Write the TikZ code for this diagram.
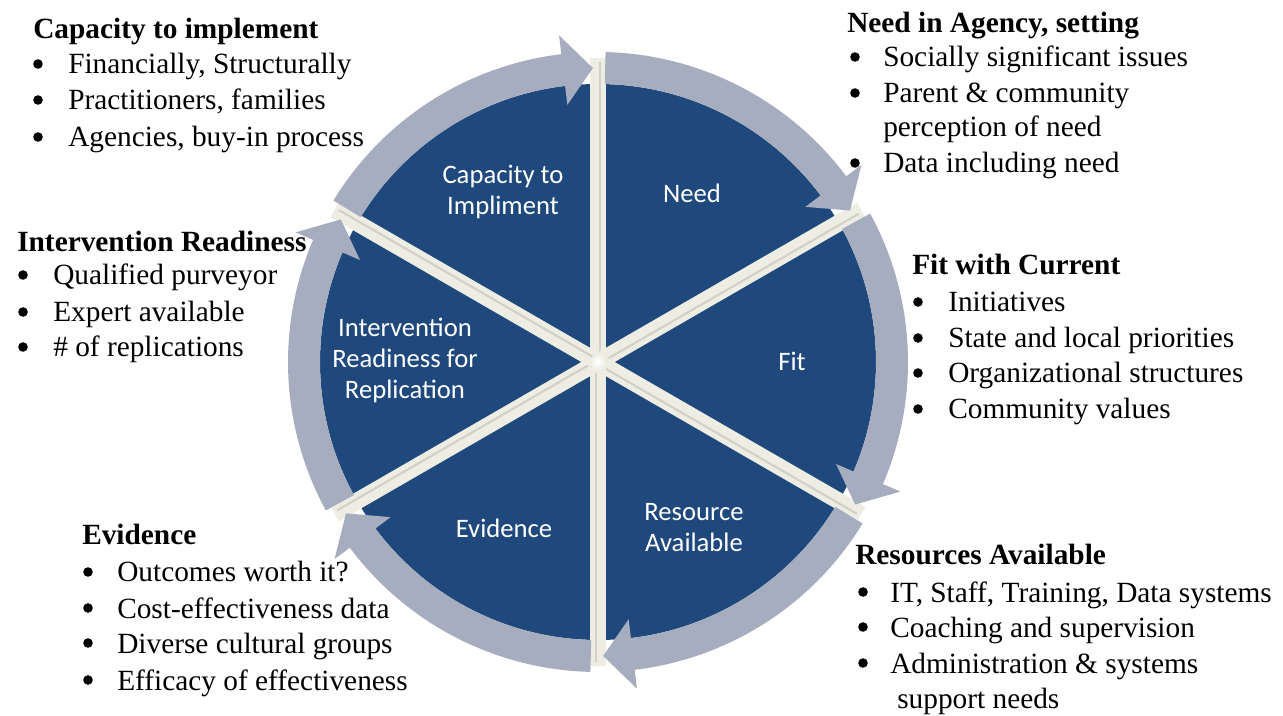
\documentclass[tikz,border=0pt]{standalone}
\usepackage{fontspec}
\setmainfont{Liberation Serif}
\newfontfamily\calib{Carlito}
\definecolor{diskblue}{RGB}{31,73,124}
\definecolor{ringgray}{RGB}{166,173,191}
\definecolor{creamc}{RGB}{238,237,228}
\definecolor{shadec}{RGB}{210,209,200}
\tikzset{
  hd/.style={anchor=base west, inner sep=0pt, font=\bfseries\fontsize{22}{27}\selectfont},
  bl/.style={anchor=base west, inner sep=0pt, font=\fontsize{22}{27}\selectfont},
  bu/.style={circle, fill=black, inner sep=0pt, minimum size=7.2pt, yshift=7.5pt},
  seclabel/.style={align=center, text=white, inner sep=0pt, font=\calib\fontsize{20}{23.3}\selectfont}
}
\begin{document}
\begin{tikzpicture}[x=0.75pt, y=0.75pt]
\useasboundingbox (0,0) rectangle (1283,715);
\fill[white] (0,0) rectangle (1283,715);
\begin{scope}[shift={(598,353)}]
  % dark disk
  \fill[diskblue] (0,0) circle[radius=278];
  % separating bands
  \foreach \a in {90,30,-30,-90,-150,150} {
    \draw[creamc, line width=12.5pt] (0,0) -- (\a:304);
    \draw[shadec, line width=1.6pt] (\a-90:2) -- ++(\a:300);
  }
  \shade[inner color=white, outer color=creamc] (0,0) circle[radius=8];
  % ring of arrows (clockwise)
  \foreach \A in {150,90,30,-30,-90,-150} {
    \pgfmathsetmacro\ta{\A-1.4}
    \pgfmathsetmacro\tip{\A-60+1.0}
    \pgfmathsetmacro\hb{\A-60+6.8}
    \fill[ringgray] (\ta:310) arc[start angle=\ta, end angle=\hb, radius=310]
      -- (\hb:329) -- (\tip:294) -- (\hb:259) -- (\hb:278)
      arc[start angle=\hb, end angle=\ta, radius=278] -- cycle;
  }
\end{scope}

% sector labels
\node[seclabel] (lcap) at (503,523) {Capacity to\\Impliment};
\node[seclabel] (lneed) at (692,522) {Need};
\node[seclabel] (lfit) at (792,354) {Fit};
\node[seclabel] (lres) at (694,187) {Resource\\Available};
\node[seclabel] (lev) at (504,187) {Evidence};
\node[seclabel] (lint) at (405,355) {Intervention\\Readiness for\\Replication};

% Capacity to implement
\node[hd] (h1) at (33,676) {Capacity to implement};
\node[bu] (b11) at (38,641) {};
\node[bl] (t11) at (68,641) {Financially, Structurally};
\node[bu] (b12) at (38,605) {};
\node[bl] (t12) at (68,605) {Practitioners, families};
\node[bu] (b13) at (38,568) {};
\node[bl] (t13) at (68,568) {Agencies, buy-in process};

% Need in Agency
\node[hd] (h2) at (847,682) {Need in Agency, setting};
\node[bu] (b21) at (855,648) {};
\node[bl] (t21) at (883,648) {Socially significant issues};
\node[bu] (b22) at (855,612) {};
\node[bl] (t22) at (883,612) {Parent \& community};
\node[bl] (t22b) at (883,578) {perception of need};
\node[bu] (b23) at (855,542) {};
\node[bl] (t23) at (883,542) {Data including need};

% Fit with Current
\node[hd] (h3) at (912,440) {Fit with Current};
\node[bu] (b31) at (918,403) {};
\node[bl] (t31) at (948,403) {Initiatives};
\node[bu] (b32) at (918,367) {};
\node[bl] (t32) at (948,367) {State and local priorities};
\node[bu] (b33) at (918,332) {};
\node[bl] (t33) at (948,332) {Organizational structures};
\node[bu] (b34) at (918,296) {};
\node[bl] (t34) at (948,296) {Community values};

% Intervention Readiness
\node[hd] (h4) at (17,463) {Intervention Readiness};
\node[bu] (b41) at (23,430) {};
\node[bl] (t41) at (53,430) {Qualified purveyor};
\node[bu] (b42) at (23,393) {};
\node[bl] (t42) at (53,393) {Expert available};
\node[bu] (b43) at (23,358) {};
\node[bl] (t43) at (53,358) {\# of replications};

% Evidence
\node[hd] (h5) at (82,170) {Evidence};
\node[bu] (b51) at (88,133) {};
\node[bl] (t51) at (117,133) {Outcomes worth it?};
\node[bu] (b52) at (88,97) {};
\node[bl] (t52) at (117,97) {Cost-effectiveness data};
\node[bu] (b53) at (88,62) {};
\node[bl] (t53) at (117,62) {Diverse cultural groups};
\node[bu] (b54) at (88,25) {};
\node[bl] (t54) at (117,25) {Efficacy of effectiveness};

% Resources Available
\node[hd] (h6) at (855,150) {Resources Available};
\node[bu] (b61) at (863,113) {};
\node[bl] (t61) at (890,113) {IT, Staff, Training, Data systems};
\node[bu] (b62) at (863,78) {};
\node[bl] (t62) at (890,78) {Coaching and supervision};
\node[bu] (b63) at (863,42) {};
\node[bl] (t63) at (890,42) {Administration \& systems};
\node[bl] (t63b) at (897,7) {support needs};
\end{tikzpicture}
\end{document}
